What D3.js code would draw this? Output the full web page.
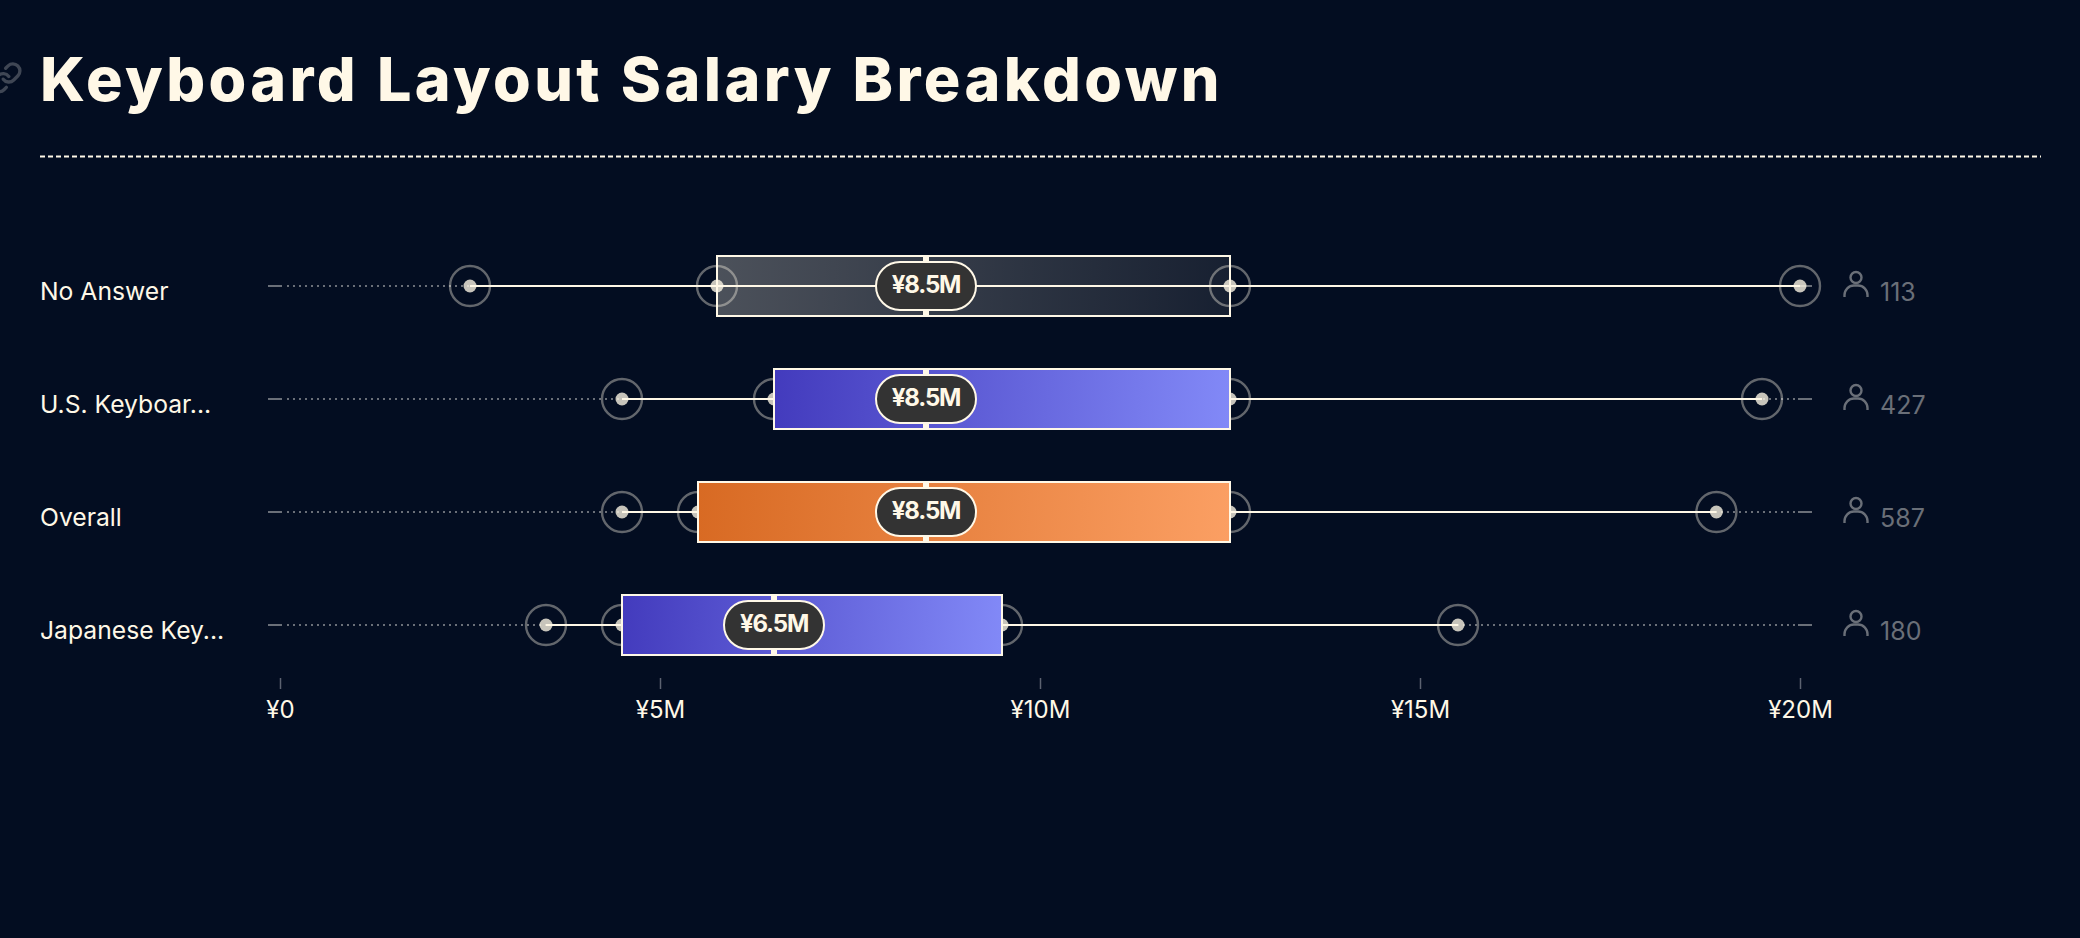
<!DOCTYPE html>
<html lang="en">
<head>
<meta charset="UTF-8">
<title>Keyboard Layout Salary Breakdown</title>
<script src="https://cdnjs.cloudflare.com/ajax/libs/d3/7.8.5/d3.min.js"></script>
<style>
  html, body { margin: 0; padding: 0; background: #030d21; overflow: hidden; }
  svg { display: block; font-family: Inter, sans-serif; }
</style>
</head>
<body>
<svg id="chart" width="2080" height="938"></svg>
<script>
// values in millions of yen
const categories = ['No Answer', 'U.S. Keyboar...', 'Overall', 'Japanese Key...'];
const lows = [2.5, 4.5, 4.5, 3.5];
const q1s = [5.75, 6.5, 5.5, 4.5];
const medians = [8.5, 8.5, 8.5, 6.5];
const q3s = [12.5, 12.5, 12.5, 9.5];
const highs = [20, 19.5, 18.9, 15.5];
const counts = [113, 427, 587, 180];
const fills = ['grey', 'blue', 'orange', 'blue'];
const xTicks = [0, 5, 10, 15, 20];

const cream = '#fff8e7';
const muted = '#6a6f78';

const rows = categories.map((name, i) => ({
  name,
  low: lows[i],
  q1: q1s[i],
  median: medians[i],
  q3: q3s[i],
  high: highs[i],
  count: counts[i],
  fill: fills[i]
}));

const svg = d3.select('#chart');
const x = d3.scaleLinear().domain([0, 20]).range([280, 1800]);
const y = d3.scalePoint().domain(categories).range([286, 625]);

// gradients for the boxes, one per row, nearly horizontal with a slight tilt
const defs = svg.append('defs');
const gradients = {
  grey: [['#fff8e7', 0.29], ['#fff8e7', 0.08]],
  blue: [['#433bbd', 1], ['#8289f7', 1]],
  orange: [['#d86a23', 1], ['#fb9f63', 1]]
};
rows.forEach((d, i) => {
  const g = defs.append('linearGradient')
    .attr('id', 'grad-' + i)
    .attr('gradientUnits', 'userSpaceOnUse')
    .attr('x1', x(d.q1)).attr('y1', -12)
    .attr('x2', x(d.q3)).attr('y2', 12);
  gradients[d.fill].forEach((s, j) => {
    g.append('stop')
      .attr('offset', j)
      .attr('stop-color', s[0])
      .attr('stop-opacity', s[1]);
  });
});

// link icon, cut off by the left edge of the page
svg.append('g')
  .attr('transform', 'translate(-10.8,61) scale(1.4)')
  .attr('fill', 'none')
  .attr('stroke', '#3f4654')
  .attr('stroke-width', 2.4)
  .attr('stroke-linecap', 'round')
  .attr('stroke-linejoin', 'round')
  .selectAll('path')
  .data([
    'M10 13a5 5 0 0 0 7.54.54l3-3a5 5 0 0 0-7.07-7.07l-1.72 1.71',
    'M14 11a5 5 0 0 0-7.54-.54l-3 3a5 5 0 0 0 7.07 7.07l1.71-1.71'
  ])
  .join('path')
  .attr('d', d => d);

// title and rule
svg.append('text')
  .attr('x', 40)
  .attr('y', 100.5)
  .attr('fill', cream)
  .attr('font-size', 61)
  .attr('font-weight', 800)
  .attr('letter-spacing', '3.4px')
  .attr('word-spacing', '1px')
  .text('Keyboard Layout Salary Breakdown');

svg.append('line')
  .attr('x1', 40).attr('x2', 2041)
  .attr('y1', 156.5).attr('y2', 156.5)
  .attr('stroke', cream)
  .attr('stroke-width', 2)
  .attr('stroke-dasharray', '5 3');

// x axis
const axis = svg.append('g')
  .attr('transform', 'translate(0,678)')
  .call(d3.axisBottom(x)
    .tickValues(xTicks)
    .tickSize(11)
    .tickPadding(11.5)
    .tickFormat(d => d === 0 ? '¥0' : '¥' + d + 'M'));
axis.select('.domain').remove();
axis.selectAll('.tick line').attr('stroke', '#5c6270').attr('stroke-width', 1.5);
axis.selectAll('.tick text')
  .attr('fill', cream)
  .attr('font-family', 'Inter, sans-serif')
  .attr('font-size', 24);

// one group per row
const row = svg.selectAll('g.row')
  .data(rows)
  .join('g')
  .attr('class', 'row')
  .attr('transform', d => `translate(0,${y(d.name)})`);

row.append('text')
  .attr('x', 40)
  .attr('y', 14)
  .attr('fill', cream)
  .attr('font-size', 24.7)
  .text(d => d.name);

// dotted track with a short solid piece at both ends
row.append('line')
  .attr('x1', x(0) + 7).attr('x2', x(20) - 2)
  .attr('stroke', muted)
  .attr('stroke-width', 2)
  .attr('stroke-dasharray', '2 4');
row.selectAll('line.end')
  .data([[x(0) - 12, x(0) + 2], [x(20) - 2, x(20) + 12]])
  .join('line')
  .attr('class', 'end')
  .attr('x1', d => d[0]).attr('x2', d => d[1])
  .attr('stroke', muted)
  .attr('stroke-width', 2);

// rings and dots on the summary values except the median
row.each(function (d) {
  const marks = d3.select(this).selectAll('g.mark')
    .data([d.low, d.q1, d.q3, d.high])
    .join('g')
    .attr('class', 'mark')
    .attr('transform', v => `translate(${x(v)},0)`);
  marks.append('circle')
    .attr('r', 20)
    .attr('fill', 'none')
    .attr('stroke', cream)
    .attr('stroke-opacity', 0.38)
    .attr('stroke-width', 2.4);
  marks.append('circle')
    .attr('r', 6.5)
    .attr('fill', cream)
    .attr('fill-opacity', 0.78);
});

// whisker
row.append('line')
  .attr('x1', d => x(d.low)).attr('x2', d => x(d.high))
  .attr('stroke', cream)
  .attr('stroke-width', 2);

// box
row.append('rect')
  .attr('x', d => x(d.q1))
  .attr('y', -30)
  .attr('width', d => x(d.q3) - x(d.q1))
  .attr('height', 60)
  .attr('fill', (d, i) => `url(#grad-${i})`)
  .attr('stroke', cream)
  .attr('stroke-width', 2);

// median tick and pill
row.append('rect')
  .attr('x', d => x(d.median) - 3)
  .attr('y', -30)
  .attr('width', 6)
  .attr('height', 60)
  .attr('fill', cream);
row.append('rect')
  .attr('x', d => x(d.median) - 50)
  .attr('y', -24)
  .attr('width', 100)
  .attr('height', 48)
  .attr('rx', 24)
  .attr('fill', '#333333')
  .attr('stroke', cream)
  .attr('stroke-width', 2);
row.append('text')
  .attr('x', d => x(d.median))
  .attr('y', 7)
  .attr('text-anchor', 'middle')
  .attr('fill', cream)
  .attr('font-size', 24)
  .attr('font-weight', 650)
  .attr('letter-spacing', '-1.2px')
  .text(d => '¥' + d.median + 'M');

// respondent count with person icon
const person = row.append('g')
  .attr('fill', 'none')
  .attr('stroke', muted)
  .attr('stroke-width', 2.4)
  .attr('transform', 'translate(1856,0)');
person.append('circle').attr('cy', -8.5).attr('r', 5.5);
person.append('path').attr('d', 'M-11.5 11v-2a9.5 9.5 0 0 1 9.5 -9.5h4a9.5 9.5 0 0 1 9.5 9.5v2');

row.append('text')
  .attr('x', 1880)
  .attr('y', 14.5)
  .attr('fill', muted)
  .attr('font-size', 25)
  .text(d => d.count);
</script>
</body>
</html>
